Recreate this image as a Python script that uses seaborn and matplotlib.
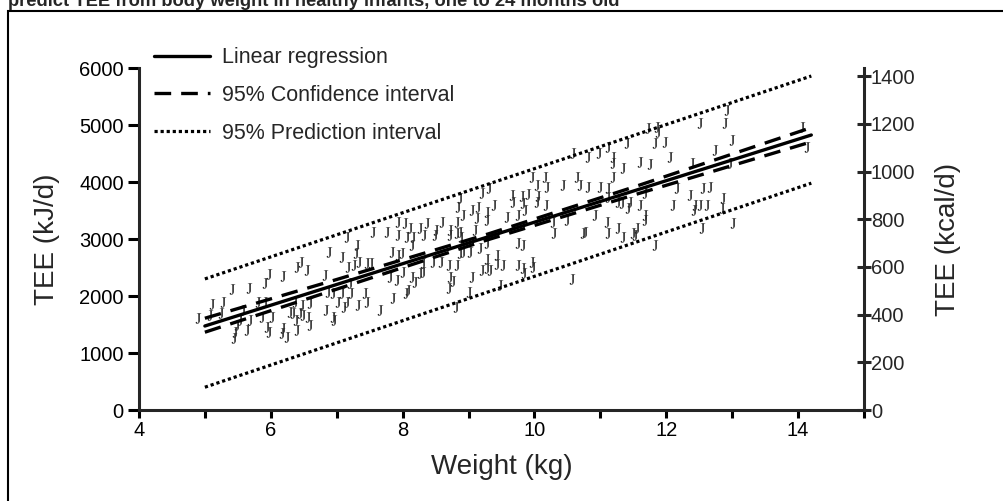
import numpy as np
import pandas as pd
import seaborn as sns
import matplotlib.pyplot as plt
from matplotlib.patches import Rectangle
from matplotlib.ticker import MultipleLocator

# scatter values (weight in kg, TEE in kJ/d)
weight_kg = [
    4.90, 5.11, 5.27, 5.08, 5.24, 5.41, 5.67, 5.91, 5.97, 6.19, 5.46, 5.44, 5.49, 5.64, 5.53,
    5.58, 5.68, 5.81, 5.91, 5.87, 6.02, 5.94, 5.97, 6.19, 6.17, 6.25, 6.40, 6.29, 6.34, 6.44,
    6.38, 6.49, 6.56, 6.59, 6.47, 6.59, 6.37, 6.40, 6.46, 6.55, 6.82, 6.84, 6.94, 6.96, 6.87,
    7.02, 7.16, 7.11, 7.08, 7.22, 7.32, 7.43, 7.46, 6.88, 7.08, 7.31, 7.29, 7.17, 7.26, 7.34,
    7.46, 7.52, 7.16, 7.55, 7.76, 7.66, 7.85, 7.81, 7.92, 7.84, 7.93, 7.93, 7.20, 6.94, 7.93,
    7.99, 8.01, 8.14, 8.16, 8.07, 8.32, 8.49, 8.72, 8.83, 8.89, 8.14, 8.19, 8.26, 8.31, 8.31,
    8.46, 8.58, 8.70, 8.83, 8.72, 8.76, 8.70, 8.08, 8.05, 8.81, 9.01, 9.05, 9.20, 9.28, 9.33,
    9.28, 9.43, 9.43, 9.52, 9.48, 9.17, 9.28, 9.02, 8.92, 8.87, 9.75, 9.83, 9.84, 9.96, 9.98,
    9.75, 9.83, 10.30, 10.74, 11.12, 10.57, 10.59, 10.81, 10.98, 9.96, 10.16, 10.04, 10.19, 10.43, 10.65,
    10.69, 10.81, 11.00, 9.31, 9.20, 9.66, 9.81, 9.90, 10.05, 9.83, 9.86, 10.04, 10.18, 9.68, 8.87,
    8.84, 9.05, 9.14, 9.28, 9.39, 8.92, 9.13, 9.28, 8.83, 8.60, 9.58, 9.75, 8.37, 8.26, 8.11,
    8.04, 8.51, 8.72, 8.87, 9.10, 10.28, 10.49, 10.92, 10.77, 11.10, 12.92, 12.51, 12.89, 11.72, 11.86,
    11.88, 11.12, 11.41, 11.83, 11.98, 13.00, 14.06, 14.14, 12.06, 11.19, 11.19, 11.34, 11.60, 11.75, 12.74,
    12.97, 12.39, 11.19, 11.12, 11.12, 11.27, 11.33, 11.45, 11.42, 11.60, 11.68, 12.16, 12.36, 12.56, 12.66,
    12.86, 12.10, 12.44, 12.51, 12.62, 12.42, 12.85, 11.68, 11.68, 11.27, 11.56, 11.50, 12.54, 13.01, 11.34,
    11.53, 11.83,
]
tee_kj = [
    1610, 1860, 1890, 1670, 1700, 2120, 2140, 2230, 2390, 2350, 1370, 1260, 1490, 1400, 1580,
    1750, 1580, 1890, 1890, 1630, 1630, 1460, 1370, 1440, 1350, 1280, 1400, 1720, 1700, 1700,
    1580, 1670, 1630, 1490, 1840, 1880, 1890, 2510, 2600, 2460, 2370, 1750, 1630, 1580, 2070,
    1890, 1890, 1810, 2050, 2050, 1840, 2050, 1890, 2770, 2680, 2890, 2750, 2510, 2540, 2600,
    2580, 2580, 3030, 3120, 3120, 1750, 1960, 2330, 2280, 2770, 2720, 3070, 2230, 2050, 3300,
    2750, 2420, 2890, 3030, 3030, 3070, 3070, 3070, 3100, 3040, 2330, 2250, 2400, 2420, 2580,
    2600, 2600, 2540, 2540, 2330, 2260, 2140, 2100, 2050, 1810, 2070, 2330, 2460, 2490, 2460,
    2650, 2720, 2560, 2540, 2190, 2840, 2930, 2770, 2770, 2750, 2540, 2490, 2400, 2600, 2510,
    2930, 2890, 3100, 3100, 3100, 2300, 4510, 4440, 4510, 4090, 4090, 3950, 3910, 3950, 4090,
    3950, 3910, 3910, 3890, 3810, 3770, 3750, 3790, 3750, 3630, 3510, 3650, 3600, 3650, 3720,
    3560, 3510, 3560, 3470, 3600, 3420, 3370, 3330, 3300, 3300, 3390, 3420, 3280, 3190, 3190,
    3280, 3160, 3160, 3120, 3160, 3300, 3330, 3420, 3120, 3300, 5260, 5030, 5030, 4950, 4960,
    4880, 4610, 4680, 4680, 4700, 4740, 4960, 4610, 4440, 4440, 4330, 4240, 4350, 4310, 4560,
    4330, 4330, 4090, 3890, 3740, 3650, 3630, 3650, 3540, 3600, 3810, 3890, 3770, 3890, 3910,
    3720, 3600, 3600, 3600, 3590, 3510, 3540, 3420, 3330, 3190, 3190, 3100, 3190, 3280, 3030,
    3070, 2890,
]

# fitted lines
line_weight = [5.0, 14.2]
regression_kj = [1474, 4825]
pi_upper_kj = [2300, 5860]
pi_lower_kj = [400, 3980]
ci_weight = [5.0, 7.0, 9.3, 11.5, 14.2]
ci_upper_kj = [1610, 2290, 3090, 3910, 4955]
ci_lower_kj = [1365, 2120, 2990, 3770, 4705]

legend_labels = ['Linear regression', '95% Confidence interval', '95% Prediction interval']

sns.set_style('ticks')
plt.rcParams['font.family'] = ['Liberation Sans', 'DejaVu Sans']
plt.rcParams['mathtext.fontset'] = 'stix'

fig = plt.figure(figsize=(10.04, 5.01), dpi=100)
ax = fig.add_axes([0.1384, 0.1816, 0.7222, 0.6826])

pts = pd.DataFrame({'weight': weight_kg, 'tee': tee_kj})
sns.scatterplot(data=pts, x='weight', y='tee', marker=r'$\mathrm{J}$', s=58,
                color='#2a2a2a', linewidth=0, ax=ax, legend=False, zorder=2)

lw = 2.4
sns.lineplot(x=line_weight, y=regression_kj, color='black', lw=lw, ax=ax,
             label=legend_labels[0], zorder=3)
sns.lineplot(x=ci_weight, y=ci_upper_kj, color='black', lw=lw, ax=ax,
             label=legend_labels[1], zorder=3)
sns.lineplot(x=ci_weight, y=ci_lower_kj, color='black', lw=lw, ax=ax, zorder=3)
sns.lineplot(x=line_weight, y=pi_upper_kj, color='black', lw=2.3, ax=ax,
             label=legend_labels[2], zorder=3)
sns.lineplot(x=line_weight, y=pi_lower_kj, color='black', lw=2.3, ax=ax, zorder=3)
lines = ax.get_lines()
dash = (0, (5.0, 3.0))
dots = (0, (1, 0.9))
lines[1].set_linestyle(dash)
lines[2].set_linestyle(dash)
lines[3].set_linestyle(dots)
lines[4].set_linestyle(dots)

ax.set_xlim(4, 15)
ax.set_ylim(0, 6000)
ax.xaxis.set_major_locator(MultipleLocator(2))
ax.xaxis.set_minor_locator(MultipleLocator(1))
ax.yaxis.set_major_locator(MultipleLocator(1000))
ax.spines['top'].set_visible(False)
ax.spines['right'].set_visible(False)
for s in ['left', 'bottom']:
    ax.spines[s].set_linewidth(2.2)
ax.tick_params(axis='both', which='both', direction='out', width=2.2, labelsize=14.5, colors='black')
ax.tick_params(axis='y', length=8, pad=3)
ax.tick_params(axis='x', which='both', length=6, pad=2)
ax.set_xlabel('Weight (kg)', fontsize=20, labelpad=10)
ax.set_ylabel('TEE (kJ/d)', fontsize=20, labelpad=14)

ax2 = ax.twinx()
ax2.set_ylim(0, 6000 / 4.184)
ax2.set_yticks(np.arange(0, 1401, 200))
for s in ['top', 'left', 'bottom']:
    ax2.spines[s].set_visible(False)
ax2.spines['right'].set_linewidth(2.2)
ax2.tick_params(axis='y', direction='inout', length=10, width=2.2, labelsize=14.5, pad=0)
ax2.set_ylabel('TEE (kcal/d)', fontsize=20, labelpad=14)

ax.legend(handles=[lines[0], lines[1], lines[3]], labels=legend_labels,
          loc='upper left', bbox_to_anchor=(0.1534, 0.906), bbox_transform=fig.transFigure,
          frameon=False, fontsize=15.5, handlelength=2.6, handletextpad=0.55,
          labelspacing=0.78, borderpad=0, borderaxespad=0)

fig.add_artist(Rectangle((8 / 1004, -0.05), 2, 1.05 - 11 / 501, transform=fig.transFigure,
                         fill=False, lw=1.5, ec='black'))
fig.text(8 / 1004, 1 - 6 / 501, 'predict TEE from body weight in healthy infants, one to 24 months old',
         fontsize=13.2, fontweight='bold', ha='left', va='baseline')

fig.savefig('out.png', dpi=100)
